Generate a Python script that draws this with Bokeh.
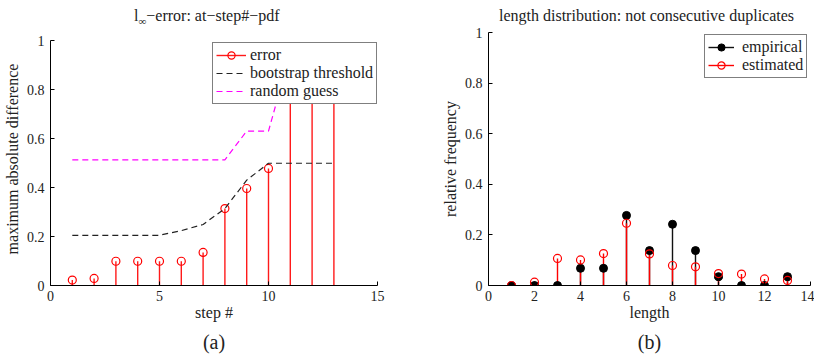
from bokeh.plotting import figure
from bokeh.layouts import row, column
from bokeh.models import Range1d, FixedTicker, Legend, LegendItem, Title, Div
from bokeh.embed import file_html
from bokeh.resources import INLINE

# ---- data: panel (a) ----
steps = [1, 2, 3, 4, 5, 6, 7, 8, 9, 10, 11, 12, 13]
error = [0.022, 0.029, 0.099, 0.099, 0.099, 0.099, 0.135, 0.314, 0.396, 0.478, 0.90, 0.97, 0.97]
bootstrap = [0.205, 0.205, 0.205, 0.205, 0.205, 0.224, 0.249, 0.314, 0.43, 0.499, 0.499, 0.499, 0.499]
random_guess = [0.513, 0.513, 0.513, 0.513, 0.513, 0.513, 0.513, 0.513, 0.63, 0.63, 0.95, 0.95, 0.95]

# ---- data: panel (b) ----
lengths = [1, 2, 3, 4, 5, 6, 7, 8, 9, 10, 11, 12, 13]
empirical = [0.0, 0.0, 0.0, 0.068, 0.068, 0.277, 0.138, 0.242, 0.138, 0.035, 0.0, 0.0, 0.035]
estimated = [0.0, 0.013, 0.107, 0.101, 0.126, 0.246, 0.125, 0.079, 0.074, 0.047, 0.045, 0.026, 0.020]

title_a = "l<sub style='font-size:11px'>∞</sub>−error: at−step#−pdf"
title_b = "length distribution: not consecutive duplicates"

FONT = "'Liberation Serif', 'Times New Roman', Times, serif"
TXT = "#222222"


def style(p, xticks, yticks, xlabel, ylabel, caption, cap_offset):
    p.xgrid.visible = False
    p.ygrid.visible = False
    p.outline_line_color = None
    for ax, ticks, lab in ((p.xaxis[0], xticks, xlabel), (p.yaxis[0], yticks, ylabel)):
        ax.ticker = FixedTicker(ticks=ticks)
        ax.axis_label = lab
        ax.axis_label_text_font = FONT
        ax.axis_label_text_font_size = "16px"
        ax.axis_label_text_font_style = "normal"
        ax.major_label_text_font = FONT
        ax.major_label_text_font_size = "14px"
        ax.major_tick_in = 4
        ax.major_tick_out = 0
        ax.minor_tick_in = 0
        ax.minor_tick_out = 0
        ax.axis_line_color = "black"
        ax.major_tick_line_color = "black"
        ax.major_label_text_color = TXT
        ax.axis_label_text_color = TXT
    p.xaxis[0].major_label_standoff = 5
    p.xaxis[0].axis_label_standoff = 0
    p.yaxis[0].major_label_standoff = 6
    p.yaxis[0].axis_label_standoff = 3
    p.yaxis[0].bounds = (0, 1)
    p.yaxis[0].major_label_overrides = {0: "0", 1: "1"}
    cap = Title(text=caption, align="center", text_font=FONT, text_font_size="20px",
                text_font_style="normal", text_color=TXT, standoff=10, offset=cap_offset)
    p.add_layout(cap, "below")


def title_div(html, left, width):
    return Div(text=html, width=width, height=24, margin=(0, 0, 0, left),
               styles={"font-family": FONT, "font-size": "16px", "line-height": "31px",
                       "color": TXT, "white-space": "nowrap", "text-align": "left"})


# ---------------- panel (a) ----------------
p1 = figure(frame_width=327, frame_height=253, output_backend="svg", toolbar_location=None,
            x_range=Range1d(0, 15), y_range=Range1d(0, 1 + 8 / 245),
            min_border_left=45, min_border_right=20, min_border_top=8, min_border_bottom=66)
style(p1, [0, 5, 10, 15], [0, 0.2, 0.4, 0.6, 0.8, 1], "step #", "maximum absolute difference",
      "(a)", -11)

r_stem = p1.segment(x0=steps, y0=[0] * len(steps), x1=steps, y1=error,
                    line_color="#ff1a1a", line_width=1.4)
r_err = p1.scatter(steps, error, marker="circle", size=8, fill_color=None,
                   line_color="#ff0000", line_width=1.2)
r_boot = p1.line(steps, bootstrap, line_color="#222222", line_dash="6 4", line_width=1.2)
r_rand = p1.line(steps, random_guess, line_color="#ff00ff", line_dash="6 4", line_width=1.2)

leg1 = Legend(items=[LegendItem(label="error", renderers=[r_stem, r_err]),
                     LegendItem(label="bootstrap threshold", renderers=[r_boot]),
                     LegendItem(label="random guess", renderers=[r_rand])],
              location=(162, 181), label_text_font=FONT, label_text_font_size="16px",
              label_text_color=TXT,
              glyph_width=30, glyph_height=18, label_height=18, spacing=0, padding=3,
              margin=0, border_line_color="black", border_line_width=1.2,
              background_fill_alpha=1.0, label_standoff=4)
p1.add_layout(leg1)

# ---------------- panel (b) ----------------
p2 = figure(frame_width=322, frame_height=253, output_backend="svg", toolbar_location=None,
            x_range=Range1d(0, 14), y_range=Range1d(0, 1),
            min_border_left=91, min_border_right=4, min_border_top=8, min_border_bottom=66)
style(p2, [0, 2, 4, 6, 8, 10, 12, 14], [0, 0.2, 0.4, 0.6, 0.8, 1], "length", "relative frequency",
      "(b)", -8)

r_es = p2.segment(x0=lengths, y0=[0] * len(lengths), x1=lengths, y1=empirical,
                  line_color="#111111", line_width=1.4)
r_ts = p2.segment(x0=lengths, y0=[0] * len(lengths), x1=lengths, y1=estimated,
                  line_color="#ff0000", line_width=1.4)
r_em = p2.scatter(lengths, empirical, marker="circle", size=8, fill_color="black",
                  line_color="black")
r_et = p2.scatter(lengths, estimated, marker="circle", size=8, fill_color=None,
                  line_color="#ff0000", line_width=1.2)

leg2 = Legend(items=[LegendItem(label="empirical", renderers=[r_es, r_em]),
                     LegendItem(label="estimated", renderers=[r_ts, r_et])],
              location=(216, 207), label_text_font=FONT, label_text_font_size="16px",
              label_text_color=TXT,
              glyph_width=26, glyph_height=18, label_height=18, spacing=0, padding=3,
              margin=0, border_line_color="black", border_line_width=1.2,
              background_fill_alpha=1.0, label_standoff=8)
p2.add_layout(leg2)

d1 = title_div(title_a, 134, 392 - 134)
d2 = title_div(title_b, 107, 417 - 107)

layout = column(row(d1, d2), row(p1, p2))
open("out.html", "w").write(file_html(layout, INLINE))
